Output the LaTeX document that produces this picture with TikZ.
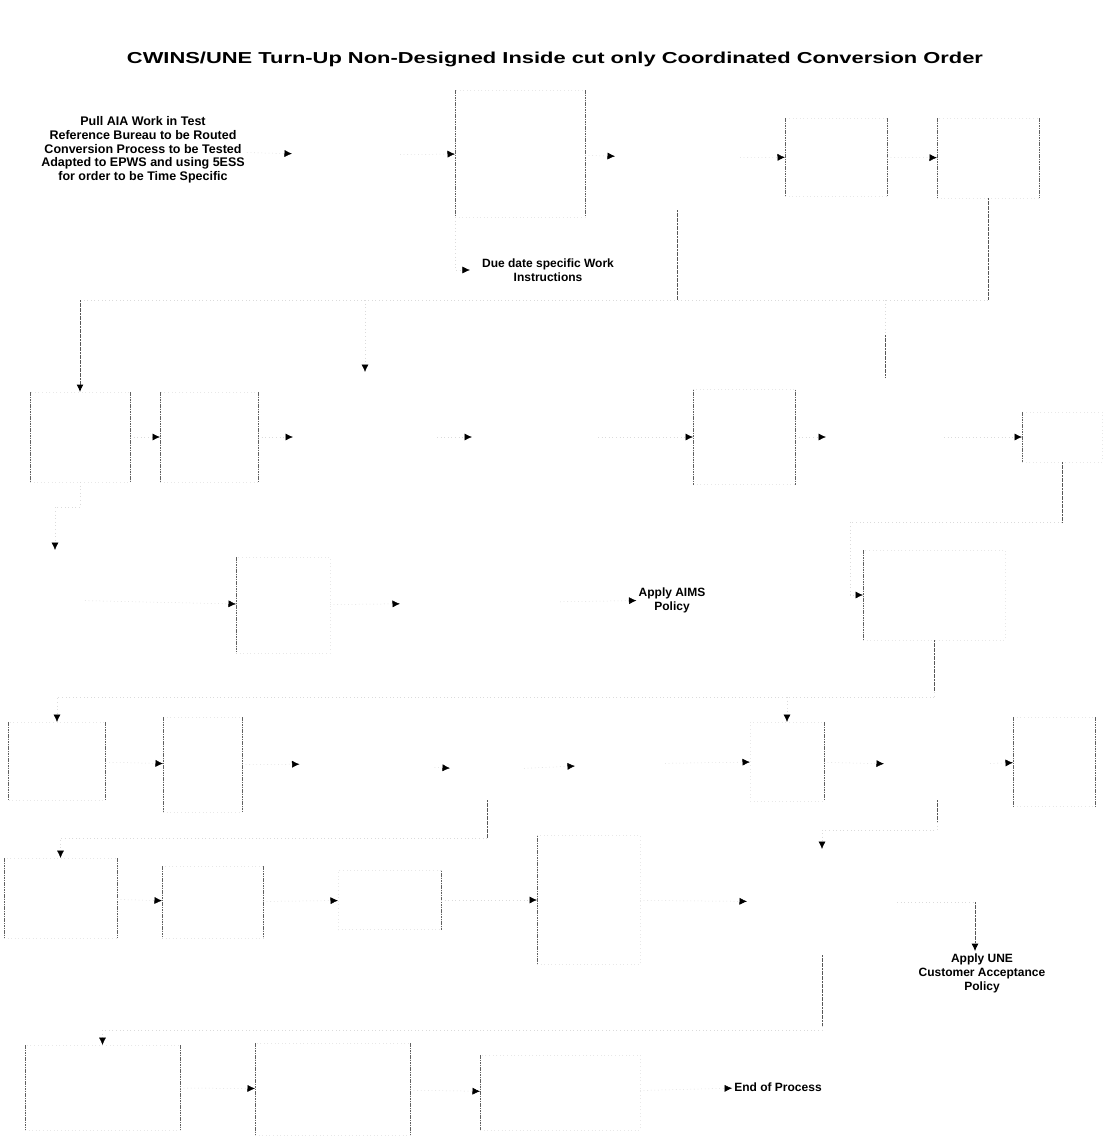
\documentclass[tikz,border=0pt]{standalone}
\usepackage{fontspec}
\setmainfont{Liberation Sans}
\usepackage{graphicx}
\usetikzlibrary{arrows.meta,calc}
\begin{document}
\begin{tikzpicture}[x=1pt,y=-1pt,
  wh/.style 2 args={minimum width=#1, minimum height=#2},
  boxframe/.style={rectangle, inner sep=0pt, outer sep=0pt, draw=black!9, line width=0.5pt, dash pattern=on 0.8pt off 2.8pt},
  spot/.style={rectangle, inner sep=0pt, outer sep=0pt},
  side/.style={draw=black!62, line width=0.9pt, dash pattern=on 1.6pt off 0.8pt},
  vline/.style={draw=black!66, line width=1pt, dash pattern=on 2pt off 0.6pt},
  arrowend/.style={-{Latex[length=7.5pt,width=7pt,color=black]}},
  link/.style={draw=black!14, line width=0.5pt, dash pattern=on 0.8pt off 2.8pt},
  conn/.style={link, arrowend},
  vconn/.style={vline, arrowend},
  lbl/.style={font=\bfseries\fontsize{12}{14}\selectfont, align=center, inner sep=2pt},
]
\fill[white] (0,0) rectangle (1109,1141);
\useasboundingbox (0,0) rectangle (1109,1141);

% title
\node (title) at (555,59) {\resizebox{856pt}{11.5pt}{\bfseries CWINS/UNE Turn-Up Non-Designed Inside cut only Coordinated Conversion Order}};

% ---- row 1
\node[lbl, font=\bfseries\fontsize{12.5}{13.7}\selectfont] (A) at (143,150) {Pull AIA Work in Test\\Reference Bureau to be Routed\\Conversion Process to be Tested\\Adapted to EPWS and using 5ESS\\for order to be Time Specific};
\node[spot, wh={108}{60}] (B) at (346,155) {};
\node[boxframe, wh={130}{127}] (C) at (520,153.5) {};
\node[spot, wh={125}{104}] (D) at (677.5,158) {};
\node[boxframe, wh={102}{78}] (E) at (836,157) {};
\node[boxframe, wh={102}{80}] (F) at (988,158) {};
\node[lbl, inner xsep=12pt] (DS) at (548,270) {Due date specific Work\\Instructions};

% ---- row 2
\node[boxframe, wh={100}{90}] (G) at (80,437) {};
\node[boxframe, wh={98}{90}] (H) at (209,437) {};
\node[spot, wh={144}{130}] (I) at (365,437) {};
\node[spot, wh={126}{80}] (J) at (535,437) {};
\node[boxframe, wh={102}{95}] (K) at (744,437) {};
\node[spot, wh={118}{118}] (L) at (885,437) {};
\node[boxframe, wh={80}{50}] (M) at (1062,437) {};

% ---- row 3
\node[spot, wh={60}{100}] (N) at (55,600) {};
\node[boxframe, wh={94}{96}] (O) at (283,605) {};
\node[spot, wh={160}{70}] (P) at (480,603) {};
\node[lbl] (AIMS) at (672,600) {Apply AIMS\\Policy};
\node[boxframe, wh={142}{90}] (Q) at (934,595) {};

% ---- row 4
\node[boxframe, wh={97}{78}] (R) at (57,761) {};
\node[boxframe, wh={79}{95}] (S) at (202.5,764.5) {};
\node[spot, wh={135}{72}] (T) at (367,764) {};
\node[spot, wh={74}{60}] (U) at (487,770) {};
\node[spot, wh={90}{60}] (V) at (620,764) {};
\node[boxframe, wh={74}{79}] (W) at (787,761.5) {};
\node[spot, wh={106}{70}] (X) at (937,765) {};
\node[boxframe, wh={82}{89}] (Y) at (1054,761.5) {};

% ---- row 5
\node[boxframe, wh={113}{80}] (AA) at (60.5,898) {};
\node[boxframe, wh={101}{72}] (BB) at (212.5,902) {};
\node[boxframe, wh={103}{59}] (CC) at (389.5,900) {};
\node[boxframe, wh={103}{129}] (DD) at (588.5,900) {};
\node[spot, wh={150}{106}] (Z) at (822,902) {};
\node[lbl] (UNE) at (982,973) {Apply UNE\\Customer Acceptance\\Policy};

% ---- row 6
\node[boxframe, wh={155}{85}] (EE) at (102.5,1087.5) {};
\node[boxframe, wh={155}{92}] (FF) at (332.5,1089) {};
\node[boxframe, wh={160}{75}] (GG) at (560,1092.5) {};
\node[lbl] (END) at (778,1087) {End of Process};

% box sides that print darker than the tops and bottoms
\foreach \n in {C,E,F,G,H,K,R,S,Y,AA,BB,EE,FF}
  \draw[side] (\n.north west) -- (\n.south west) (\n.north east) -- (\n.south east);
\foreach \n in {M,O,Q,DD,GG}
  \draw[side] (\n.north west) -- (\n.south west);
\foreach \n in {W,CC}
  \draw[side] (\n.north east) -- (\n.south east);

% bus lines between the rows
\coordinate (bus2) at (0,300);
\coordinate (qx) at (850,522);
\coordinate (bus4) at (0,697);
\coordinate (bus5) at (0,830);
\coordinate (bus5b) at (0,838);
\coordinate (zc) at (975,902);
\coordinate (bus6) at (0,1030);

% row 1 flow
\foreach \a/\b in {A/B,B/C,C/D,D/E,E/F} \draw[conn] (\a) -- (\b);
\draw[conn] (C.south west) |- (DS.west);

% row 1 to row 2
\draw[vline] (F.south) -- (F.south |- bus2);
\draw[link] (F.south |- bus2) -- (G.north |- bus2);
\draw[vconn] (G.north |- bus2) -- (G.north);
\draw[vline] (D.south) -- (D.south |- bus2);
\draw[conn] (I.north |- bus2) -- (I.north);
\draw[link] (L.north |- bus2) -- ++(0,35) coordinate (lk);
\draw[vline] (lk) -- (L.north);

% row 2 flow
\foreach \a/\b in {G/H,H/I,I/J,J/K,K/L,L/M} \draw[conn] (\a) -- (\b);

% row 2 to row 3
\draw[vline] (M.south) -- (M.south |- qx);
\draw[conn] (M.south |- qx) -- (qx) |- (Q.west);
\draw[conn] (G.south) -- ++(0,25) -| (N.north);

% row 3 flow
\foreach \a/\b in {N/O,O/P,P/AIMS} \draw[conn] (\a) -- (\b);

% row 3 to row 4
\draw[vline] (Q.south) -- ($(Q.south |- bus4)+(0,-5)$);
\draw[link] ($(Q.south |- bus4)+(0,-5)$) -- (Q.south |- bus4);
\draw[conn] (Q.south |- bus4) -| (R.north);
\draw[conn] (W.north |- bus4) -- (W.north);

% row 4 flow
\foreach \a/\b in {R/S,S/T,T/U,U/V,V/W,W/X,X/Y} \draw[conn] (\a) -- (\b);

% row 4 to row 5
\draw[vline] (X.south) -- ($(X.south |- bus5)+(0,-8)$);
\draw[conn] ($(X.south |- bus5)+(0,-8)$) -- (X.south |- bus5) -| (Z.north);
\draw[vline] (U.south) -- (U.south |- bus5b);
\draw[conn] (U.south |- bus5b) -| (AA.north);

% row 5 flow
\foreach \a/\b in {AA/BB,BB/CC,CC/DD,DD/Z} \draw[conn] (\a) -- (\b);
\draw[link] (Z.east) -- (zc);
\draw[vconn] (zc) -- (zc |- UNE.north);

% row 5 to row 6
\draw[vline] (Z.south) -- ($(Z.south |- bus6)+(0,-4)$);
\draw[conn] ($(Z.south |- bus6)+(0,-4)$) -- (Z.south |- bus6) -| (EE.north);

% row 6 flow
\foreach \a/\b in {EE/FF,FF/GG,GG/END} \draw[conn] (\a) -- (\b);
\end{tikzpicture}
\end{document}
